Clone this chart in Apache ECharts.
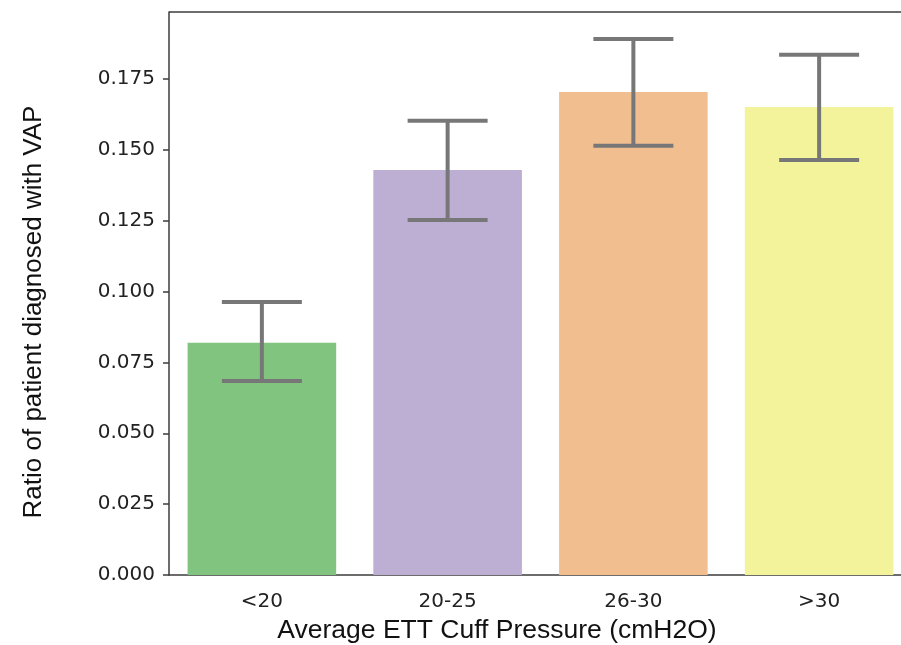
<!DOCTYPE html>
<html>
<head>
<meta charset="utf-8">
<script src="https://cdn.jsdelivr.net/npm/echarts@6/dist/echarts.min.js"></script>
<style>
  html, body { margin: 0; padding: 0; background: #fff; overflow: hidden; }
  /* the original axes box runs past the right edge of the picture */
  #chart { width: 912px; height: 645px; }
</style>
</head>
<body>
<div id="chart"></div>
<script>
var categories = ['<20', '20-25', '26-30', '>30'];
var ratios = [0.0819, 0.1429, 0.1704, 0.1651];
var errLow = [0.0684, 0.1252, 0.1514, 0.1464];
var errHigh = [0.0963, 0.1602, 0.1891, 0.1835];
var barColors = ['#80c47f', '#bcafd3', '#f0be8f', '#f3f39b'];

var chart = echarts.init(document.getElementById('chart'), null, { renderer: 'canvas' });

var errData = categories.map(function (c, i) { return [i, errLow[i], errHigh[i]]; });

var option = {
  animation: false,
  backgroundColor: '#fff',
  grid: {
    left: 169, top: 12, right: 0, bottom: 70,
    show: false, containLabel: false
  },
  xAxis: {
    type: 'category',
    data: categories,
    axisLine: { lineStyle: { color: '#3c3c3c', width: 1.5 } },
    axisTick: { alignWithLabel: true, length: 6, lineStyle: { color: '#3c3c3c', width: 1.5 } },
    axisLabel: { color: '#222', fontSize: 20, fontFamily: 'DejaVu Sans', margin: 17 }
  },
  yAxis: {
    type: 'value',
    min: 0, max: 0.1986, interval: 0.025,
    splitLine: { show: false },
    axisLine: { show: true, lineStyle: { color: '#3c3c3c', width: 1.5 } },
    axisTick: { show: true, length: 6, lineStyle: { color: '#3c3c3c', width: 1.5 } },
    axisLabel: {
      color: '#222', fontSize: 20, fontFamily: 'DejaVu Sans', margin: 14,
      showMaxLabel: false,
      formatter: function (v) { return v.toFixed(3); }
    }
  },
  series: [
    {
      type: 'bar',
      data: ratios.map(function (v, i) { return { value: v, itemStyle: { color: barColors[i] } }; }),
      barCategoryGap: '20%'
    },
    {
      type: 'custom',
      data: errData,
      z: 10,
      renderItem: function (params, api) {
        var lo = api.coord([api.value(0), api.value(1)]);
        var hi = api.coord([api.value(0), api.value(2)]);
        var hw = 40;
        var style = { stroke: '#777', lineWidth: 4 };
        return {
          type: 'group',
          children: [
            { type: 'line', shape: { x1: lo[0], y1: lo[1], x2: hi[0], y2: hi[1] }, style: style },
            { type: 'line', shape: { x1: lo[0] - hw, y1: lo[1], x2: lo[0] + hw, y2: lo[1] }, style: style },
            { type: 'line', shape: { x1: hi[0] - hw, y1: hi[1], x2: hi[0] + hw, y2: hi[1] }, style: style }
          ]
        };
      }
    }
  ],
  graphic: [
    {
      // top spine of the axes box
      type: 'line',
      shape: { x1: 169, y1: 12, x2: 912, y2: 12 },
      style: { stroke: '#3c3c3c', lineWidth: 1.5 }
    },
    {
      type: 'text',
      style: {
        text: 'Ratio of patient diagnosed with VAP',
        fontSize: 26, fontFamily: 'Liberation Sans', fill: '#111',
        align: 'center', verticalAlign: 'middle'
      },
      x: 34, y: 312, rotation: Math.PI / 2
    },
    {
      type: 'text',
      style: {
        text: 'Average ETT Cuff Pressure (cmH2O)',
        fontSize: 26.5, fontFamily: 'Liberation Sans', fill: '#111',
        align: 'center', verticalAlign: 'middle'
      },
      x: 497, y: 631
    }
  ]
};

chart.setOption(option);
</script>
</body>
</html>
